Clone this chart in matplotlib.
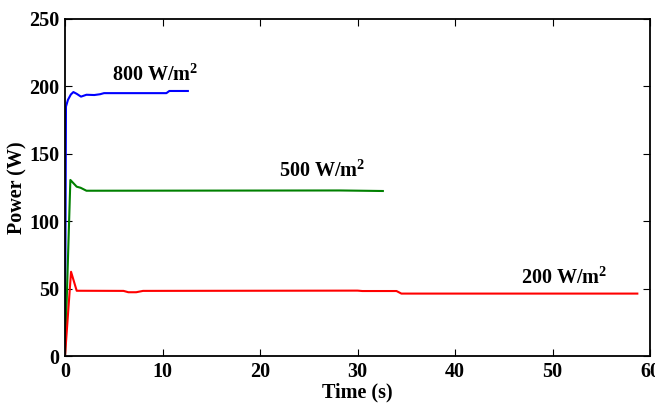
import matplotlib
matplotlib.use("Agg")
import matplotlib.pyplot as plt

# 800 W/m^2 series
t800 = [0, 0.1, 0.3, 0.6, 0.86, 1.2, 1.64, 2.2, 3.0, 3.6, 4.0, 10.4, 10.7, 12.6]
p800 = [0, 185, 190, 194, 195.8, 194.5, 192.4, 193.8, 193.6, 194.2, 195, 195, 196.6, 196.6]

# 500 W/m^2 series
t500 = [0, 0.55, 1.2, 1.6, 2.2, 28.2, 32.6]
p500 = [0, 130.6, 125.6, 124.8, 122.6, 122.8, 122.4]

# 200 W/m^2 series
t200 = [0, 0.62, 1.2, 6.0, 6.5, 7.3, 8.0, 30.0, 30.5, 34.0, 34.5, 58.7]
p200 = [0, 62.5, 48.4, 48.3, 47.3, 47.3, 48.3, 48.5, 48.2, 48.2, 46.3, 46.3]

labels = ["800 W/m$^\\mathbf{2}$", "500 W/m$^\\mathbf{2}$", "200 W/m$^\\mathbf{2}$"]
label_pos = [(9.2, 204.5), (26.4, 132.8), (51.2, 53.5)]

xticks = [0, 10, 20, 30, 40, 50, 60]
yticks = [0, 50, 100, 150, 200, 250]

plt.rcParams['font.family'] = ['Liberation Serif', 'DejaVu Serif']
plt.rcParams['mathtext.fontset'] = 'custom'
plt.rcParams['mathtext.rm'] = 'Liberation Serif:bold'
plt.rcParams['mathtext.bf'] = 'Liberation Serif:bold'

fig = plt.figure(figsize=(6.55, 4.03), dpi=100)
ax = fig.add_axes([65/655, 47/403, 585/655, 337/403])

ax.plot(t800, p800, color='#0000ff', lw=1.5)
ax.plot(t500, p500, color='#008000', lw=1.5)
ax.plot(t200, p200, color='#ff0000', lw=1.5)

for txt, (x, y) in zip(labels, label_pos):
    ax.text(x, y, txt, ha='center', va='baseline', fontsize=14.5, fontweight='bold')

ax.set_xlim(0, 60)
ax.set_ylim(0, 250)
ax.set_xticks(xticks)
ax.set_yticks(yticks)
ax.tick_params(direction='in', top=True, right=True, length=5, width=0.8,
               labelsize=14.5, pad=4)
for lab in ax.get_xticklabels() + ax.get_yticklabels():
    lab.set_fontweight('bold')
    lab.set_clip_on(False)
for s in ax.spines.values():
    s.set_linewidth(1.3)

ax.set_xlabel("Time (s)", fontsize=14.5, fontweight='bold', labelpad=1)
ax.set_ylabel("Power (W)", fontsize=14.5, fontweight='bold', labelpad=1)

fig.savefig("out.png", dpi=100)
